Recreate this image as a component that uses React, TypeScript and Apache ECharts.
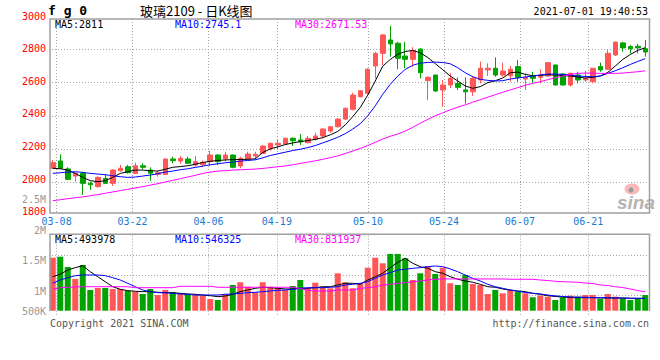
import React, { useEffect, useRef } from 'react';
import * as echarts from 'echarts';

const dates = ['03-05','03-08','03-09','03-10','03-11','03-12','03-15','03-16','03-17','03-18','03-19','03-22','03-23','03-24','03-25','03-26','03-29','03-30','03-31','04-01','04-02','04-06','04-07','04-08','04-09','04-12','04-13','04-14','04-15','04-16','04-19','04-20','04-21','04-22','04-23','04-26','04-27','04-28','04-29','04-30','05-06','05-07','05-10','05-11','05-12','05-13','05-14','05-17','05-18','05-19','05-20','05-21','05-24','05-25','05-26','05-27','05-28','05-31','06-01','06-02','06-03','06-04','06-07','06-08','06-09','06-10','06-11','06-15','06-16','06-17','06-18','06-21','06-22','06-23','06-24','06-25','06-28','06-29','06-30','07-01'];
const dateTicks = ['03-08','03-22','04-06','04-19','05-10','05-24','06-07','06-21'];

const opens = [2083,2127,2079,2036,2053,1992,1972,2022,1992,2068,2092,2052,2098,2072,2046,2046,2139,2127,2139,2103,2105,2123,2163,2139,2163,2097,2139,2157,2173,2204,2224,2230,2264,2254,2237,2258,2278,2308,2334,2380,2439,2515,2536,2701,2777,2858,2838,2761,2741,2803,2612,2646,2556,2586,2596,2556,2545,2616,2677,2687,2646,2642,2697,2622,2640,2632,2640,2707,2652,2586,2646,2616,2606,2697,2681,2767,2840,2818,2820,2805];
const closes = [2117,2083,2016,2053,1992,1983,2028,1992,2072,2083,2056,2098,2089,2053,2056,2139,2129,2143,2113,2123,2118,2163,2123,2163,2089,2143,2169,2167,2217,2234,2234,2264,2249,2243,2264,2278,2320,2334,2380,2445,2525,2551,2681,2777,2888,2834,2747,2741,2793,2660,2632,2550,2586,2626,2572,2545,2626,2687,2687,2646,2670,2681,2632,2632,2626,2646,2721,2586,2586,2657,2616,2626,2687,2677,2777,2845,2810,2805,2810,2785];
const lows = [2077,2080,2012,2002,1922,1952,1966,1988,1976,2062,2052,2048,2077,2008,2032,2044,2113,2109,2109,2092,2092,2097,2103,2123,2083,2083,2133,2137,2169,2189,2193,2223,2217,2223,2234,2249,2264,2298,2328,2374,2431,2511,2532,2626,2707,2757,2681,2687,2696,2626,2495,2544,2455,2566,2556,2475,2520,2596,2640,2636,2636,2606,2606,2556,2596,2596,2636,2582,2582,2576,2596,2606,2596,2666,2677,2761,2787,2777,2777,2757];
const highs = [2133,2167,2089,2056,2062,2002,2034,2048,2077,2103,2103,2117,2113,2089,2068,2141,2153,2157,2153,2157,2130,2189,2167,2183,2167,2153,2183,2183,2223,2237,2254,2268,2270,2290,2278,2298,2324,2338,2385,2451,2539,2556,2687,2787,2894,2942,2847,2847,2814,2807,2640,2646,2616,2657,2632,2632,2640,2727,2717,2753,2721,2701,2737,2657,2666,2681,2721,2707,2657,2660,2666,2672,2687,2721,2797,2848,2847,2827,2834,2858];

const ma5 = [2083,2080,2072,2052,2028,2008,2002,2008,2028,2052,2062,2072,2072,2068,2066,2077,2089,2093,2098,2107,2118,2125,2130,2133,2135,2136,2137,2140,2178,2200,2212,2226,2236,2244,2250,2258,2268,2285,2305,2345,2395,2450,2525,2610,2700,2740,2772,2788,2795,2780,2752,2715,2678,2640,2610,2580,2566,2576,2600,2612,2628,2660,2664,2650,2642,2644,2648,2646,2644,2640,2634,2628,2632,2640,2662,2700,2740,2770,2795,2811];
const ma10 = [2052,2056,2060,2062,2058,2052,2048,2044,2038,2032,2028,2030,2036,2042,2050,2060,2066,2074,2080,2088,2096,2104,2110,2116,2120,2126,2130,2134,2146,2160,2170,2180,2190,2198,2208,2220,2236,2252,2270,2292,2320,2352,2400,2460,2530,2590,2640,2680,2705,2718,2722,2724,2722,2714,2690,2660,2636,2620,2614,2610,2612,2622,2628,2634,2640,2646,2652,2652,2650,2646,2640,2638,2636,2640,2656,2672,2690,2710,2728,2745.1];
const ma30 = [1887,1893,1899,1905,1910,1917,1924,1932,1940,1948,1956,1964,1972,1981,1990,2000,2010,2020,2030,2040,2052,2060,2066,2068,2072,2074,2076,2078,2082,2087,2092,2097,2104,2112,2120,2128,2137,2147,2158,2172,2187,2203,2220,2240,2260,2276,2290,2308,2330,2355,2378,2400,2418,2436,2452,2466,2482,2497,2512,2527,2542,2556,2570,2584,2596,2606,2618,2630,2640,2650,2656,2658,2658,2656,2656,2656,2658,2662,2666,2671.53];

const volumes = [1546000,1562000,1393000,1197000,1426000,1016000,1049000,1049000,1033000,1033000,1005000,989000,951000,1033000,934000,1016000,979000,962000,951000,934000,923000,869000,852000,946000,1098000,1143000,1070000,979000,1143000,1070000,1054000,1016000,1082000,1180000,1044000,1136000,1070000,1044000,1290000,1143000,1044000,1126000,1382000,1546000,1454000,1607000,1607000,1536000,1180000,1290000,1410000,1279000,1382000,1126000,1098000,1262000,1115000,1098000,951000,1016000,962000,1016000,989000,962000,897000,926000,907000,852000,897000,923000,907000,934000,934000,869000,951000,907000,880000,852000,869000,934000];
const volMa5 = [1234000,1274000,1344000,1382000,1415000,1316000,1234000,1152000,1070000,1028000,1005000,995000,989000,989000,979000,972000,972000,962000,951000,946000,934000,923000,907000,918000,946000,989000,1016000,1044000,1061000,1054000,1044000,1033000,1033000,1044000,1044000,1054000,1070000,1070000,1098000,1126000,1126000,1110000,1180000,1234000,1290000,1382000,1470000,1536000,1454000,1398000,1372000,1316000,1290000,1234000,1192000,1164000,1143000,1110000,1070000,1061000,1033000,1016000,1000000,989000,962000,946000,923000,910000,902000,893000,890000,890000,890000,885000,885000,885000,885000,880000,880000,877000];
const volMa10 = [1126000,1180000,1218000,1251000,1262000,1262000,1262000,1251000,1218000,1180000,1126000,1070000,1016000,989000,972000,972000,962000,951000,946000,934000,934000,934000,934000,946000,951000,962000,972000,979000,989000,1000000,1011000,1016000,1028000,1044000,1054000,1054000,1054000,1061000,1070000,1098000,1110000,1126000,1152000,1208000,1262000,1300000,1344000,1356000,1372000,1382000,1398000,1410000,1398000,1361000,1316000,1262000,1208000,1164000,1110000,1070000,1044000,1016000,995000,975000,962000,951000,934000,920000,910000,902000,900000,897000,893000,890000,890000,885000,885000,882000,880000,879000];
const volMa30 = [1028000,1054000,1061000,1066000,1070000,1070000,1070000,1070000,1070000,1070000,1070000,1054000,1054000,1054000,1054000,1054000,1054000,1077000,1077000,1077000,1077000,1077000,1061000,1061000,1061000,1061000,1061000,1061000,1061000,1061000,1061000,1061000,1061000,1040000,1010000,1000000,1000000,1000000,1016000,1016000,1016000,1044000,1054000,1070000,1098000,1110000,1126000,1136000,1152000,1164000,1180000,1192000,1197000,1197000,1197000,1197000,1197000,1197000,1197000,1197000,1197000,1192000,1192000,1192000,1192000,1180000,1172000,1159000,1152000,1148000,1143000,1131000,1123000,1098000,1090000,1070000,1057000,1033000,1008000,984000];

const priceTicks = [1800, 2000, 2200, 2400, 2600, 2800, 3000];
const volumeTickValues = [500000, 1000000, 1500000, 2000000, 2500000];
const volumeTickLabels = ['500K', '1M', '1.5M', '2M', '2.5M'];

const title = '玻璃2109 - 日K线图';
const symbolText = 'f g 0';
const timeText = '2021-07-01 19:40:53';
const priceLegend = ['MA5:2811', 'MA10:2745.1', 'MA30:2671.53'];
const volLegend = ['MA5:493978', 'MA10:546325', 'MA30:831937'];

const MONO = "'DejaVu Sans Mono', monospace";
const RED = '#ff5757';
const GREEN = '#00a300';
const MA_COLORS = ['#000000', '#0000ff', '#ff00ff'];
const GRID_L = 49;
const GRID_R = 11;
const dotted = { color: '#a6a6a6', type: [1, 2] as any, width: 1 };

export default function App() {
  const ref = useRef<HTMLDivElement>(null);
  useEffect(() => {
    const chart = echarts.init(ref.current!, undefined, { renderer: 'svg' });
    const tickIdx = new Set(dateTicks.map((d) => dates.indexOf(d)));
    const showTick = (i: number) => tickIdx.has(i);
    const candleData = dates.map((_, i) => [opens[i], closes[i], lows[i], highs[i]]);
    const volData = volumes.map((v, i) => ({
      value: v,
      itemStyle: { color: closes[i] >= opens[i] ? RED : GREEN },
    }));
    const lineSeries = (data: number[], color: string, xi: number, yi: number) => ({
      type: 'line', data, xAxisIndex: xi, yAxisIndex: yi, showSymbol: false, symbol: 'none',
      lineStyle: { color, width: 1 }, itemStyle: { color }, silent: true, z: 3,
    });
    const legendTexts = (items: string[], y: number) => items.map((t, k) => ({
      type: 'text', x: [55, 175, 295][k], y, z: 50, silent: true,
      style: { text: t, fill: MA_COLORS[k], fontFamily: MONO, fontSize: 10, verticalAlign: 'middle' },
    }));
    const option: any = {
      animation: false,
      backgroundColor: '#ffffff',
      textStyle: { fontFamily: MONO },
      grid: [
        { left: GRID_L, right: GRID_R, top: 19, bottom: 147 },
        { left: GRID_L, right: GRID_R, top: 234.3, bottom: 49.3 },
        { left: GRID_L, right: GRID_R, top: 235.7, bottom: 44.3 },
        { left: GRID_L, right: GRID_R, top: 16, bottom: 148.3 },
        { left: GRID_L, right: GRID_R, top: 199.5, bottom: 38.5 },
      ],
      xAxis: [
        { type: 'category', gridIndex: 0, data: dates, boundaryGap: true, show: false },
        {
          type: 'category', gridIndex: 0, data: dates, boundaryGap: false, position: 'bottom',
          axisLine: { show: false }, axisTick: { show: false },
          axisLabel: { interval: showTick, color: '#1a7ad2', fontFamily: MONO, fontSize: 10, margin: 3 },
          splitLine: { show: true, interval: showTick, lineStyle: dotted },
        },
        { type: 'category', gridIndex: 1, data: dates, boundaryGap: true, show: false },
        {
          type: 'category', gridIndex: 2, data: dates, boundaryGap: false,
          axisLine: { show: false }, axisTick: { show: false }, axisLabel: { show: false },
          splitLine: { show: true, interval: showTick, lineStyle: dotted },
        },
        { type: 'value', gridIndex: 3, min: 0, max: 1, show: false },
        { type: 'value', gridIndex: 4, min: 0, max: 1, show: false },
      ],
      yAxis: [
        {
          type: 'value', gridIndex: 0, min: 1812.8, max: 2984.5, splitNumber: 5,
          axisLine: { show: false }, axisTick: { show: false }, axisLabel: { show: false },
          splitLine: { show: true, showMinLine: false, showMaxLine: false, lineStyle: dotted },
        },
        { type: 'value', gridIndex: 1, min: 677000, max: 1929000, show: false },
        {
          type: 'value', gridIndex: 2, min: 0, max: 80, interval: 20,
          axisLine: { show: false }, axisTick: { show: false }, axisLabel: { show: false },
          splitLine: { show: true, showMinLine: false, showMaxLine: false, lineStyle: dotted },
        },
        {
          type: 'value', gridIndex: 3, min: priceTicks[0], max: priceTicks[priceTicks.length - 1],
          interval: priceTicks[1] - priceTicks[0],
          axisLine: { show: false }, axisTick: { show: false }, splitLine: { show: false },
          axisLabel: {
            color: '#ff0000', fontFamily: MONO, fontSize: 10, margin: 3,
            formatter: (v: number) => String(v),
          },
        },
        {
          type: 'value', gridIndex: 4, min: volumeTickValues[0], max: volumeTickValues[volumeTickValues.length - 1],
          interval: volumeTickValues[1] - volumeTickValues[0],
          axisLine: { show: false }, axisTick: { show: false }, splitLine: { show: false },
          axisLabel: {
            color: '#999999', fontFamily: MONO, fontSize: 10, margin: 3,
            formatter: (v: number) => {
              const k = volumeTickValues.indexOf(v);
              const s = k >= 0 ? volumeTickLabels[k] : '';
              return k === 0 ? `{low|${s}}` : s;
            },
            rich: { low: { padding: [0, 0, 21, 0], color: '#999999', fontFamily: MONO, fontSize: 10 } },
          },
        },
      ],
      series: [
        {
          type: 'candlestick', xAxisIndex: 0, yAxisIndex: 0, data: candleData, barWidth: 5,
          itemStyle: { color: RED, color0: GREEN, borderColor: RED, borderColor0: GREEN, borderWidth: 1 },
          z: 2,
        },
        lineSeries(ma5, MA_COLORS[0], 0, 0),
        lineSeries(ma10, MA_COLORS[1], 0, 0),
        lineSeries(ma30, MA_COLORS[2], 0, 0),
        { type: 'bar', xAxisIndex: 2, yAxisIndex: 1, data: volData, barWidth: 6, z: 2 },
        lineSeries(volMa5, MA_COLORS[0], 2, 1),
        lineSeries(volMa10, MA_COLORS[1], 2, 1),
        lineSeries(volMa30, MA_COLORS[2], 2, 1),
      ],
      graphic: [
        { type: 'ellipse', shape: { cx: 632, cy: 189, rx: 7.5, ry: 5.5 }, style: { fill: '#f9b8b8' }, z: 1, silent: true },
        { type: 'circle', shape: { cx: 631, cy: 190, r: 2.5 }, style: { fill: '#9a9a9a' }, z: 1, silent: true },
        {
          type: 'text', x: 617, y: 202, z: 1, silent: true,
          style: { text: 'sina', fill: '#b4b4b4', fontFamily: "'Liberation Sans', Arial, sans-serif", fontSize: 19, fontWeight: 'bold', fontStyle: 'italic', verticalAlign: 'middle' },
        },
        {
          type: 'rect', shape: { x: 50, y: 19, width: 599.5, height: 194 }, z: 60, silent: true,
          style: { fill: 'transparent', stroke: '#a0a0a0', lineWidth: 1.5 },
        },
        {
          type: 'polyline', shape: { points: [[50, 311], [50, 234.3], [649.5, 234.3], [649.5, 311]] }, z: 60, silent: true,
          style: { stroke: '#a0a0a0', lineWidth: 1.5, fill: 'none' },
        },
        {
          type: 'text', x: 48, y: 10, z: 50, silent: true,
          style: { text: symbolText, fill: '#000', fontFamily: MONO, fontSize: 13, fontWeight: 'bold', verticalAlign: 'middle' },
        },
        {
          type: 'text', x: 140, y: 10.5, z: 50, silent: true,
          style: { text: title, fill: '#000', fontFamily: "'Noto Sans CJK SC', sans-serif", fontSize: 13, verticalAlign: 'middle' },
        },
        {
          type: 'text', x: 648, y: 11.5, z: 50, silent: true,
          style: { text: timeText, fill: '#000', fontFamily: MONO, fontSize: 10, align: 'right', verticalAlign: 'middle' },
        },
        ...legendTexts(priceLegend, 24),
        ...legendTexts(volLegend, 239),
        {
          type: 'text', x: 50, y: 323, z: 50, silent: true,
          style: { text: 'Copyright 2021 SINA.COM', fill: '#555', fontFamily: MONO, fontSize: 10, verticalAlign: 'middle' },
        },
        {
          type: 'text', x: 649, y: 323, z: 50, silent: true,
          style: { text: 'http://finance.sina.com.cn', fill: '#555', fontFamily: MONO, fontSize: 10, align: 'right', verticalAlign: 'middle' },
        },
      ],
    };
    chart.setOption(option);
    return () => chart.dispose();
  }, []);
  return (
    <div
      ref={ref}
      style={{ position: 'fixed', left: 0, top: 0, width: 660, height: 360, background: '#fff' }}
    />
  );
}
